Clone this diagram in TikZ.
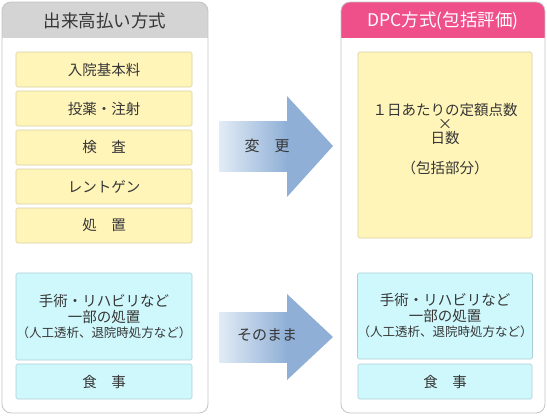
\documentclass[tikz,border=0pt]{standalone}
\usepackage{fontspec}
\setmainfont{Noto Sans CJK JP}
\definecolor{txtgray}{HTML}{363636}
\definecolor{headgray}{HTML}{D4D4D4}
\definecolor{headpink}{HTML}{F0508A}
\definecolor{framegray}{HTML}{C4C4C4}
\definecolor{yfill}{HTML}{FFF5B9}
\definecolor{yline}{HTML}{D9CFA2}
\definecolor{cfill}{HTML}{CFF8FC}
\definecolor{cline}{HTML}{AACED6}
\definecolor{arrdark}{HTML}{8FAFD6}
\definecolor{arrlight}{HTML}{E2ECF6}

\begin{document}
\begin{tikzpicture}[x=1pt,y=-1pt,text=txtgray,
  ybox/.style={draw=yline,fill=yfill,line width=.6pt,rounded corners=1.5pt,minimum width=176pt,inner sep=0pt,align=center,font=\fontsize{14.5}{16}\selectfont},
  cbox/.style={ybox,draw=cline,fill=cfill},
  headtxt/.style={font=\fontsize{17.5}{20}\selectfont},
  arrtxt/.style={font=\fontsize{15}{17}\selectfont}]
\useasboundingbox (0,0) rectangle (547,416);
\begin{scope}
\clip[rounded corners=9pt] (2,2) rectangle (208,413);
\fill[headgray] (2,2) rectangle (208,38);
\end{scope}
\draw[framegray,line width=.8pt,rounded corners=9pt] (2,2) rectangle (208,413);
\node[headtxt] (lhead) at (105,20.5) {出来高払い方式};
\begin{scope}
\clip[rounded corners=9pt] (341,2) rectangle (545,413);
\fill[headpink] (341,2) rectangle (545,38);
\end{scope}
\draw[framegray,line width=.8pt,rounded corners=9pt] (341,2) rectangle (545,413);
\node[headtxt,text=white] (rhead) at (443,20.5) {DPC方式(包括評価)};
\node[ybox,minimum height=35pt] (nyuin) at (104,69.5) {入院基本料};
\node[ybox,minimum height=35pt] (toyaku) at (104,108.5) {投薬・注射};
\node[ybox,minimum height=35pt] (kensa) at (104,147.5) {検　査};
\node[ybox,minimum height=35pt] (rentgen) at (104,186.5) {レントゲン};
\node[ybox,minimum height=35pt] (shochi) at (104,225.5) {処　置};
\node[cbox,minimum height=87pt] (lshujutsu) at (104,316.5) {手術・リハビリなど\\一部の処置\\[-1pt]{\fontsize{12.5}{14}\selectfont （人工透析、退院時処方など）}};
\node[cbox,minimum height=35pt] (lshokuji) at (104,381.5) {食　事};
\node[ybox,minimum width=174pt,minimum height=186pt] (hokatsu) at (445,145) {};
\node[align=center,font=\fontsize{14.5}{16}\selectfont] (hokatsutxt) at ([yshift=6pt]hokatsu.center) {１日あたりの定額点数\\[-2pt]×\\[-2pt]日数\\[14pt]（包括部分）};
\node[cbox,minimum width=174pt,minimum height=86pt] (rshujutsu) at (445,316) {手術・リハビリなど\\一部の処置\\[-1pt]{\fontsize{12.5}{14}\selectfont （人工透析、退院時処方など）}};
\node[cbox,minimum width=174pt,minimum height=35pt] (rshokuji) at (445,381.5) {食　事};
\shade[left color=arrlight,right color=arrdark] (219,121) rectangle (287.5,171);
\fill[arrdark] (287,96) -- (333,146) -- (287,197) -- cycle;
\node[arrtxt] (henko) at (267,146) {変　更};
\shade[left color=arrlight,right color=arrdark] (219,312) rectangle (287.5,362);
\fill[arrdark] (287,294) -- (333,337) -- (287,380) -- cycle;
\node[arrtxt] (sonomama) at (267,335) {そのまま};
\end{tikzpicture}
\end{document}
